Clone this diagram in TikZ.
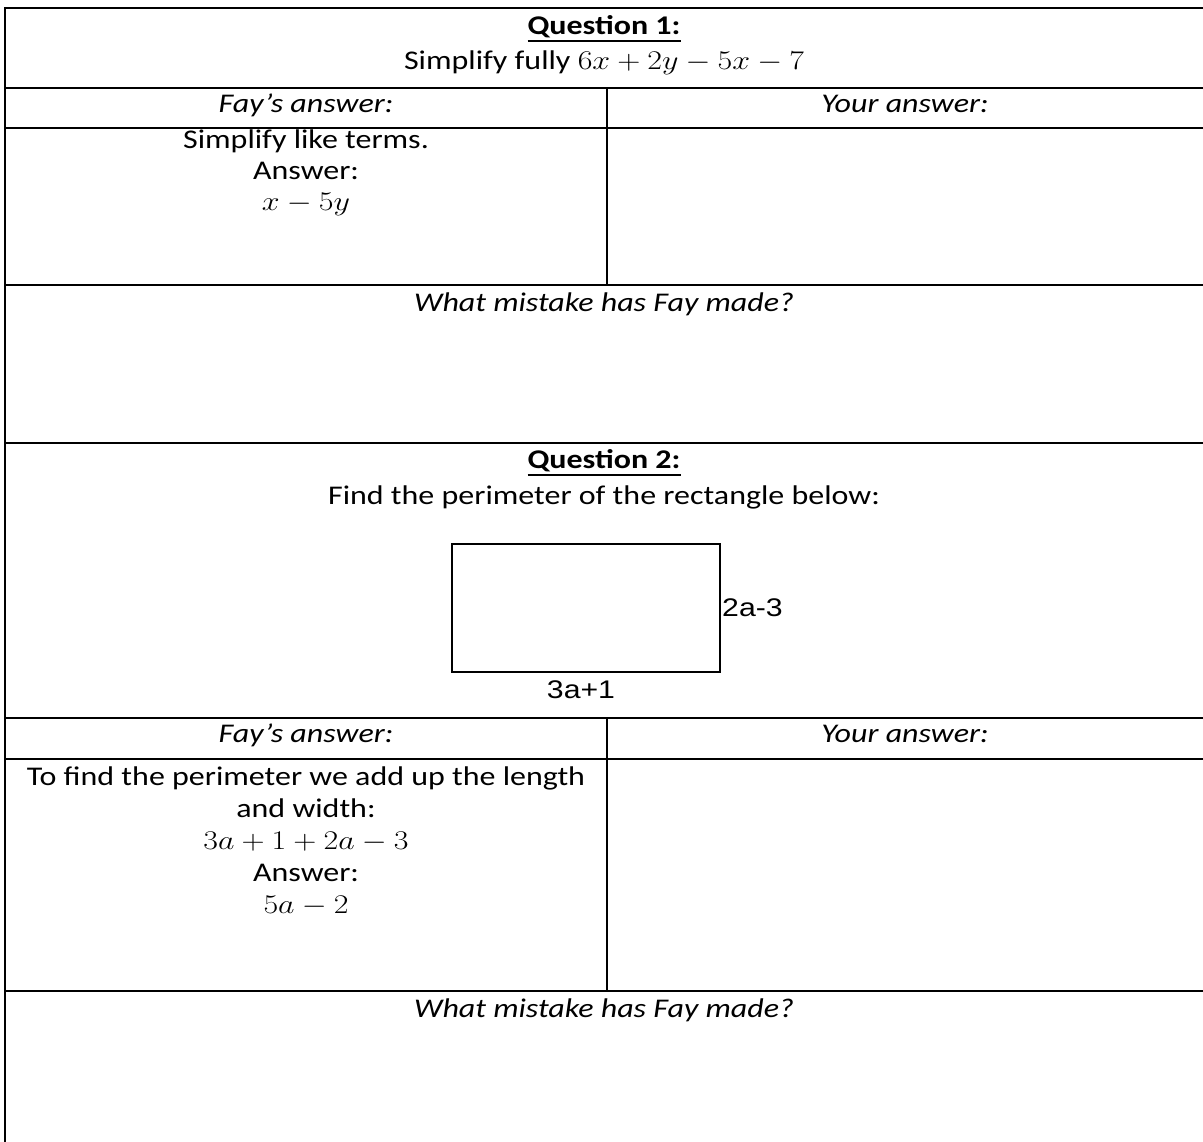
\RequirePackage{fix-cm}
\documentclass[tikz,border=0pt]{standalone}
\usepackage{graphicx}
\usepackage{fontspec}
\setmainfont{Carlito}
\newfontfamily\arialfont{Liberation Sans}
\newcommand{\myul}[1]{\leavevmode\vtop{\hbox{#1}\kern2pt\hrule height 2pt}}
\newcommand{\sx}[1]{\scalebox{1.185}[1]{#1}}
\begin{document}
\begin{tikzpicture}[x=1pt,y=-1pt,
  rule/.style={line width=2.6pt, draw=black},
  txt/.style={font=\fontsize{27}{32}\selectfont, inner sep=0pt, anchor=mid},
  itxt/.style={txt, font=\fontsize{27}{32}\selectfont\itshape},
  lab/.style={font=\arialfont\fontsize{25.5}{30}\selectfont, inner sep=1pt},
  figbox/.style={draw=black, line width=2pt, minimum width=268pt, minimum height=128pt, inner sep=0pt}]
\useasboundingbox (0,0) rectangle (1203,1142);
\fill[white] (0,0) rectangle (1203,1142);

% table rules
\draw[rule] (5,1142) -- (5,8) -- (1203,8);
\draw[rule] (5,88) -- (1203,88);
\draw[rule] (5,128) -- (1203,128);
\draw[rule] (5,285) -- (1203,285);
\draw[rule] (5,443) -- (1203,443);
\draw[rule] (5,718) -- (1203,718);
\draw[rule] (5,759) -- (1203,759);
\draw[rule] (5,991) -- (1203,991);
\draw[rule] (607,88) -- (607,285);
\draw[rule] (607,718) -- (607,991);

% Question 1
\node[txt] (q1title) at (604,32) {\sx{\myul{\textbf{Question 1:}}}};
\node[txt] (q1text) at (604,67) {\sx{Simplify fully $6x+2y-5x-7$}};
\node[itxt] (fay1) at (306,110) {\sx{Fay’s answer:}};
\node[itxt] (your1) at (905,110) {\sx{Your answer:}};
\node[txt] (f1a) at (306,146) {\sx{Simplify like terms.}};
\node[txt] (f1b) at (306,177) {\sx{Answer:}};
\node[txt] (f1c) at (306,208) {\sx{$x-5y$}};
\node[itxt] (mis1) at (604,309) {\sx{What mistake has Fay made?}};

% Question 2
\node[txt] (q2title) at (604,466) {\sx{\myul{\textbf{Question 2:}}}};
\node[txt] (q2text) at (604,502) {\sx{Find the perimeter of the rectangle below:}};
\node[figbox] (rect) at (586,608) {};
\node[lab, anchor=west] (w) at (rect.east) {\sx{2a-3}};
\node[lab] (l) at (581,690) {\sx{3a+1}};
\node[itxt] (fay2) at (306,740) {\sx{Fay’s answer:}};
\node[itxt] (your2) at (905,740) {\sx{Your answer:}};
\node[txt] (f2a) at (306,783) {\sx{To find the perimeter we add up the length}};
\node[txt] (f2b) at (306,815) {\sx{and width:}};
\node[txt] (f2c) at (306,847) {\sx{$3a+1+2a-3$}};
\node[txt] (f2d) at (306,879) {\sx{Answer:}};
\node[txt] (f2e) at (306,911) {\sx{$5a-2$}};
\node[itxt] (mis2) at (604,1015) {\sx{What mistake has Fay made?}};
\end{tikzpicture}
\end{document}
